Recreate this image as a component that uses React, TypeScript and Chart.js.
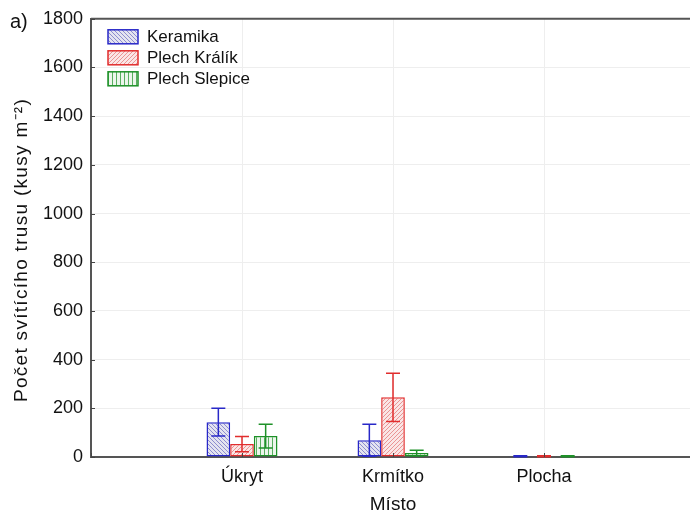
import React, { useEffect, useRef } from "react";
import { Chart, registerables } from "chart.js";

Chart.register(...registerables);

const categories = ["", "Úkryt", "Krmítko", "Plocha", ""];
const seriesNames = ["Keramika", "Plech Králík", "Plech Slepice"];
const keramika = [null, 143, 69, 3, null];
const plechKralik = [null, 53, 245, 3, null];
const plechSlepice = [null, 86, 16, 3, null];
const keramikaErr = [null, 57, 66, 2, null];
const plechKralikErr = [null, 31, 99, 2, null];
const plechSlepiceErr = [null, 49, 12, 2, null];
const yTicksMax = 1800;
const yTickStep = 200;
const yTitle = "Počet svítícího trusu (kusy m⁻²)";
const xTitle = "Místo";

const FONT = "'Liberation Sans', Arial, sans-serif";
const BLUE = "rgb(40,40,200)";
const RED = "rgb(225,45,45)";
const GREEN = "rgb(30,145,40)";

function makePattern(kind: string): CanvasPattern | string {
  const c = document.createElement("canvas");
  const s = 4;
  c.width = s;
  c.height = s;
  const x = c.getContext("2d")!;
  if (kind === "blue") {
    x.fillStyle = "rgb(228,228,240)";
    x.fillRect(0, 0, s, s);
    x.strokeStyle = "rgba(70,70,180,0.55)";
    x.lineWidth = 1;
    x.beginPath();
    x.moveTo(0, 0);
    x.lineTo(s, s);
    x.moveTo(-1, s - 1);
    x.lineTo(1, s + 1);
    x.moveTo(s - 1, -1);
    x.lineTo(s + 1, 1);
    x.stroke();
  } else if (kind === "red") {
    x.fillStyle = "rgb(250,230,230)";
    x.fillRect(0, 0, s, s);
    x.strokeStyle = "rgba(220,80,80,0.55)";
    x.lineWidth = 1;
    x.beginPath();
    x.moveTo(0, s);
    x.lineTo(s, 0);
    x.moveTo(-1, 1);
    x.lineTo(1, -1);
    x.moveTo(s - 1, s + 1);
    x.lineTo(s + 1, s - 1);
    x.stroke();
  } else {
    x.fillStyle = "rgb(236,246,236)";
    x.fillRect(0, 0, s, s);
    x.fillStyle = "rgba(40,150,50,0.75)";
    x.fillRect(0, 0, 1, s);
  }
  return x.createPattern(c, "repeat")!;
}

export default function App() {
  const ref = useRef<HTMLCanvasElement>(null);
  useEffect(() => {
    const canvas = ref.current!;
    const fills = [makePattern("blue"), makePattern("red"), makePattern("green")];
    const borders = [BLUE, RED, GREEN];
    const values = [keramika, plechKralik, plechSlepice];
    const errs = [keramikaErr, plechKralikErr, plechSlepiceErr];

    const errorBars = {
      id: "errorBars",
      afterDatasetsDraw(chart: any) {
        const ctx = chart.ctx;
        const ys = chart.scales.y;
        chart.data.datasets.forEach((ds: any, di: number) => {
          const meta = chart.getDatasetMeta(di);
          meta.data.forEach((el: any, i: number) => {
            const v = ds.data[i];
            const e = errs[di][i];
            if (v == null || e == null) return;
            const top = ys.getPixelForValue(v + e);
            const bot = ys.getPixelForValue(Math.max(v - e, 0));
            ctx.save();
            ctx.strokeStyle = borders[di];
            ctx.lineWidth = 1.5;
            ctx.beginPath();
            ctx.moveTo(el.x, top);
            ctx.lineTo(el.x, bot);
            ctx.moveTo(el.x - 7, top);
            ctx.lineTo(el.x + 7, top);
            ctx.moveTo(el.x - 7, bot);
            ctx.lineTo(el.x + 7, bot);
            ctx.stroke();
            ctx.restore();
          });
        });
      },
    };

    const frameLegend = {
      id: "frameLegend",
      afterDraw(chart: any) {
        const ctx = chart.ctx;
        const a = chart.chartArea;
        const ys = chart.scales.y;
        const xs = chart.scales.x;
        ctx.save();
        ctx.strokeStyle = "#555";
        ctx.lineWidth = 2;
        ctx.beginPath();
        ctx.moveTo(a.left, a.top);
        ctx.lineTo(a.right, a.top);
        ctx.stroke();
        // inward tick marks
        ctx.lineWidth = 1;
        ctx.strokeStyle = "#444";
        ctx.beginPath();
        ys.ticks.forEach((t: any) => {
          const y = Math.round(ys.getPixelForValue(t.value)) + 0.5;
          ctx.moveTo(a.left, y);
          ctx.lineTo(a.left + 4, y);
        });
        xs.ticks.forEach((t: any, i: number) => {
          const x = Math.round(xs.getPixelForTick(i)) + 0.5;
          ctx.moveTo(x, a.bottom);
          ctx.lineTo(x, a.bottom - 4);
        });
        ctx.stroke();
        // legend
        ctx.font = `17px ${FONT}`;
        ctx.textBaseline = "middle";
        ctx.textAlign = "left";
        seriesNames.forEach((name, i) => {
          const cy = a.top + 18 + i * 21;
          const sx = a.left + 17;
          ctx.fillStyle = fills[i] as any;
          ctx.fillRect(sx, cy - 7, 30, 14);
          ctx.strokeStyle = borders[i];
          ctx.lineWidth = 1.5;
          ctx.strokeRect(sx, cy - 7, 30, 14);
          ctx.fillStyle = "#111";
          ctx.fillText(name, sx + 39, cy + 1);
        });
        ctx.font = `20px ${FONT}`;
        ctx.textBaseline = "alphabetic";
        ctx.fillStyle = "#111";
        ctx.fillText("a)", 10, 28);
        // y title
        ctx.translate(22, 250);
        ctx.rotate(-Math.PI / 2);
        ctx.font = `19px ${FONT}`;
        (ctx as any).letterSpacing = "1.3px";
        ctx.textAlign = "center";
        ctx.textBaseline = "middle";
        ctx.fillText(yTitle, 0, 0);
        ctx.restore();
      },
    };

    const chart = new Chart(canvas, {
      type: "bar",
      data: {
        labels: categories,
        datasets: seriesNames.map((n, i) => ({
          label: n,
          data: values[i] as any,
          backgroundColor: fills[i] as any,
          borderColor: borders[i],
          borderWidth: 1.5,
          borderSkipped: false,
          categoryPercentage: 0.47,
          barPercentage: 1,
        })),
      },
      options: {
        responsive: false,
        animation: false,
        layout: { padding: { top: 15, right: 5, left: 0, bottom: 0 } },
        plugins: {
          legend: { display: false },
          tooltip: { enabled: false },
        },
        scales: {
          x: {
            offset: false,
            grid: { color: "#eeeeee", lineWidth: 1, drawTicks: false, offset: false },
            border: { color: "#555", width: 2 },
            ticks: {
              padding: 9,
              color: "#111",
              font: { family: FONT, size: 18 },
              maxRotation: 0,
              autoSkip: false,
            },
            title: {
              display: true,
              text: xTitle,
              color: "#111",
              font: { family: FONT, size: 19 },
              padding: { top: 0, bottom: 1 },
            },
            afterFit: (s: any) => {
              s.height = 60;
            },
          } as any,
          y: {
            min: 0,
            max: yTicksMax,
            grid: { color: "#eeeeee", lineWidth: 1, drawTicks: false },
            border: { color: "#555", width: 2 },
            ticks: {
              stepSize: yTickStep,
              padding: 8,
              color: "#111",
              font: { family: FONT, size: 18 },
              callback: (v: any) => String(v),
            },
            title: { display: false },
            afterFit: (s: any) => {
              s.width = 91;
            },
          } as any,
        },
      },
      plugins: [errorBars, frameLegend],
    });
    return () => chart.destroy();
  }, []);

  return (
    <div
      style={{
        position: "fixed",
        left: 0,
        top: 0,
        width: 690,
        height: 517,
        overflow: "hidden",
        background: "#fff",
      }}
    >
      <canvas ref={ref} width={704} height={517} style={{ display: "block" }} />
    </div>
  );
}
